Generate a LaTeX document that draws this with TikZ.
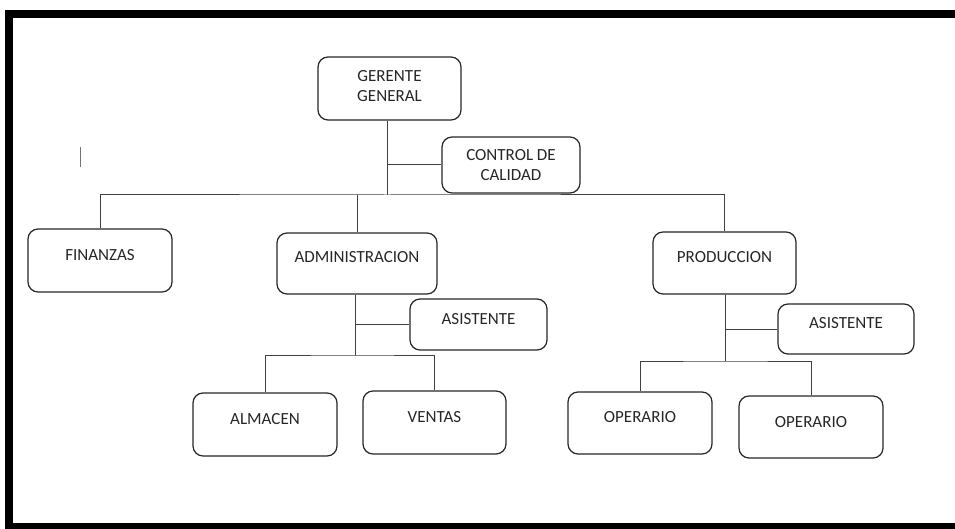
\documentclass[tikz,border=0pt]{standalone}
\usepackage{fontspec}
\setmainfont{Carlito}
\begin{document}
\begin{tikzpicture}[x=1pt,y=-1pt,
  box/.style={draw=black!85, line width=1.2pt, rounded corners=10pt, inner sep=0pt},
  lbl/.style={text=black!85, font=\fontsize{17}{20}\selectfont, align=center},
  conn/.style={draw=black!75, line width=1pt}]
\useasboundingbox (0,0) rectangle (955,529);
\begin{scope}
\clip (0,0) rectangle (955,529);
\draw[line width=8pt] (970,14) -- (9,14) -- (9,527) -- (970,527);
\end{scope}
\draw[black!55, line width=1pt] (80,147) -- (80,167);
% boxes
\node[box, minimum width=143pt, minimum height=63pt, label={[lbl,yshift=2pt]center:GERENTE\\GENERAL}] (gg) at (389.5,88.5) {};
\node[box, minimum width=138pt, minimum height=56pt, label={[lbl]center:CONTROL DE\\CALIDAD}] (cc) at (511,165) {};
\node[box, minimum width=144pt, minimum height=63pt, label={[lbl,yshift=5pt]center:FINANZAS}] (fin) at (100,260.5) {};
\node[box, minimum width=160pt, minimum height=61pt, label={[lbl,yshift=6pt]center:ADMINISTRACION}] (adm) at (357,263.5) {};
\node[box, minimum width=143pt, minimum height=62pt, label={[lbl,yshift=6pt]center:PRODUCCION}] (prod) at (724.5,263) {};
\node[box, minimum width=137pt, minimum height=51pt, label={[lbl,yshift=5pt]center:ASISTENTE}] (asa) at (478.5,324.5) {};
\node[box, minimum width=136pt, minimum height=50pt, label={[lbl,yshift=6pt]center:ASISTENTE}] (asp) at (846,329) {};
\node[box, minimum width=144pt, minimum height=63pt, label={[lbl,yshift=5pt]center:ALMACEN}] (alm) at (265,424.5) {};
\node[box, minimum width=143pt, minimum height=63pt, label={[lbl,yshift=5pt]center:VENTAS}] (ven) at (434.5,422.5) {};
\node[box, minimum width=144pt, minimum height=62pt, label={[lbl,yshift=6pt]center:OPERARIO}] (op1) at (640,423) {};
\node[box, minimum width=144pt, minimum height=62pt, label={[lbl,yshift=5pt]center:OPERARIO}] (op2) at (811,427) {};
% connectors
\coordinate (b0) at (387,195);
\coordinate (b1) at (355,355);
\coordinate (b2) at (725,361);
\draw[conn] (gg.south -| b0) -- (b0);
\draw[conn] (cc.west) -- (cc.west -| b0);
\draw[conn] (fin.north) |- (b0) -| (prod.north);
\draw[conn] (adm.north) -- (adm.north |- b0);
\draw[conn] (adm.south -| b1) -- (b1);
\draw[conn] (asa.west) -- (asa.west -| b1);
\draw[conn] (alm.north) |- (b1) -| (ven.north);
\draw[conn] (prod.south -| b2) -- (b2);
\draw[conn] (asp.west) -- (asp.west -| b2);
\draw[conn] (op1.north) |- (b2) -| (op2.north);
\end{tikzpicture}
\end{document}
